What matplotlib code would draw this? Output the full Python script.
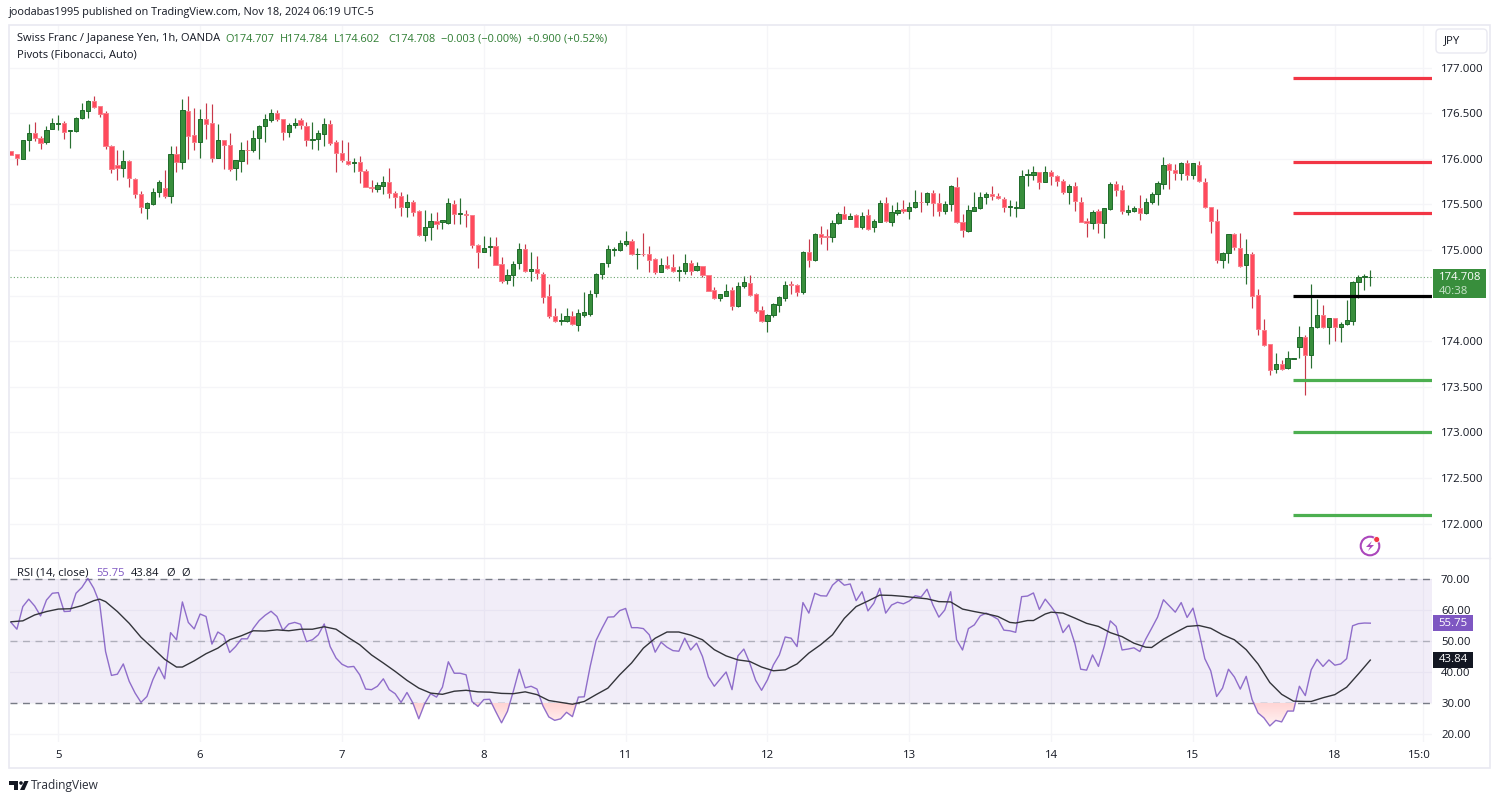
import numpy as np
import matplotlib
matplotlib.use("Agg")
import matplotlib.pyplot as plt
from matplotlib.patches import Rectangle, Circle, Polygon, FancyBboxPatch
from matplotlib.path import Path

plt.rcParams['font.family'] = ['Open Sans', 'DejaVu Sans']

# hourly CHF/JPY candles
opens = [
    176.08,176.05,176.00,176.20,176.28,176.23,176.18,176.33,176.38,176.39,
    176.30,176.30,176.45,176.52,176.63,176.58,176.50,176.14,175.93,175.90,
    175.98,175.78,175.61,175.46,175.50,175.63,175.68,175.59,176.05,175.96,
    176.52,176.26,176.18,176.43,176.39,176.01,176.20,176.15,175.90,175.98,
    176.10,176.09,176.23,176.36,176.42,176.50,176.43,176.29,176.37,176.42,
    176.36,176.21,176.22,176.27,176.38,176.18,176.06,175.98,175.95,175.96,
    175.87,175.69,175.67,175.70,175.75,175.62,175.59,175.47,175.53,175.43,
    175.16,175.25,175.32,175.31,175.29,175.50,175.39,175.39,175.38,175.05,
    174.98,175.03,175.04,174.85,174.67,174.72,174.86,175.01,174.77,174.79,
    174.74,174.49,174.28,174.22,174.22,174.27,174.18,174.29,174.30,174.53,
    174.74,174.86,175.00,175.00,175.07,175.10,174.95,174.96,174.95,174.90,
    174.76,174.84,174.81,174.77,174.77,174.86,174.78,174.82,174.72,174.56,
    174.47,174.50,174.56,174.38,174.60,174.64,174.52,174.34,174.22,174.29,
    174.40,174.47,174.63,174.62,174.54,174.98,174.89,175.17,175.15,175.14,
    175.30,175.39,175.34,175.38,175.25,175.38,175.25,175.31,175.51,175.31,
    175.41,175.45,175.43,175.47,175.53,175.52,175.62,175.51,175.43,175.50,
    175.69,175.31,175.21,175.43,175.46,175.58,175.61,175.59,175.56,175.47,
    175.46,175.46,175.82,175.82,175.85,175.74,175.85,175.81,175.76,175.63,
    175.70,175.53,175.32,175.29,175.43,175.29,175.45,175.72,175.66,175.42,
    175.43,175.46,175.41,175.52,175.61,175.72,175.94,175.88,175.84,175.95,
    175.82,175.93,175.75,175.47,175.32,174.89,174.97,175.17,175.02,174.83,
    174.96,174.51,174.12,173.97,173.69,173.75,173.70,173.80,173.93,174.05,
    173.85,174.15,174.29,174.16,174.25,174.16,174.19,174.22,174.65,174.70,174.707,
]
highs = [
    176.08,176.05,176.21,176.38,176.40,176.25,176.36,176.45,176.48,176.41,
    176.31,176.46,176.61,176.64,176.69,176.58,176.52,176.15,176.10,176.09,
    175.99,175.79,175.65,175.53,175.68,175.77,175.88,176.14,176.14,176.66,
    176.69,176.56,176.54,176.61,176.60,176.38,176.20,176.28,175.99,176.18,
    176.21,176.32,176.37,176.49,176.54,176.53,176.44,176.39,176.45,176.45,
    176.40,176.40,176.31,176.45,176.42,176.20,176.20,176.18,176.01,176.03,
    175.89,175.77,175.75,175.81,175.90,175.65,175.64,175.61,175.55,175.44,
    175.44,175.41,175.42,175.33,175.57,175.55,175.57,175.44,175.38,175.06,
    175.15,175.14,175.14,174.92,174.79,174.88,175.08,175.07,174.98,174.93,
    174.76,174.63,174.36,174.31,174.36,174.33,174.35,174.54,174.56,174.75,
    174.86,175.05,175.03,175.11,175.21,175.12,175.02,175.19,175.04,174.91,
    174.91,174.93,174.96,174.82,174.95,174.89,174.87,174.82,174.72,174.59,
    174.52,174.63,174.59,174.65,174.71,174.72,174.53,174.39,174.30,174.42,
    174.50,174.66,174.66,174.63,174.99,175.12,175.18,175.26,175.23,175.33,
    175.42,175.48,175.41,175.39,175.42,175.45,175.34,175.55,175.58,175.49,
    175.52,175.55,175.52,175.66,175.64,175.63,175.66,175.62,175.54,175.71,
    175.80,175.39,175.49,175.64,175.63,175.63,175.70,175.62,175.58,175.55,
    175.54,175.88,175.89,175.92,175.85,175.92,175.88,175.82,175.78,175.72,
    175.74,175.58,175.35,175.44,175.45,175.46,175.74,175.76,175.71,175.49,
    175.48,175.60,175.57,175.64,175.76,176.02,175.95,175.94,175.96,175.99,
    175.95,175.97,175.79,175.47,175.45,174.98,175.17,175.18,175.18,175.12,
    174.98,174.57,174.24,173.97,173.87,173.79,173.89,173.81,174.17,174.07,
    174.63,174.46,174.40,174.25,174.25,174.21,174.45,174.66,174.72,174.74,174.784,
]
lows = [
    176.04,175.93,176.00,176.08,176.19,176.11,176.16,176.33,176.32,176.22,
    176.12,176.29,176.43,176.45,176.56,176.46,176.11,175.84,175.77,175.80,
    175.69,175.57,175.40,175.34,175.49,175.58,175.57,175.51,175.85,175.89,
    176.00,176.09,176.01,176.22,175.96,176.01,175.89,175.87,175.77,175.85,
    175.94,176.07,176.00,176.18,176.40,176.41,176.20,176.24,176.34,176.33,
    176.14,176.11,176.10,176.14,176.15,175.85,175.96,175.93,175.85,175.73,
    175.69,175.63,175.63,175.61,175.57,175.46,175.37,175.36,175.37,175.15,
    175.10,175.11,175.23,175.23,175.28,175.28,175.28,175.25,175.02,174.80,
    174.98,174.93,174.83,174.64,174.63,174.60,174.79,174.76,174.66,174.68,
    174.42,174.25,174.21,174.18,174.21,174.18,174.11,174.26,174.28,174.48,
    174.68,174.81,174.93,174.99,175.04,174.94,174.79,174.93,174.76,174.74,
    174.76,174.79,174.76,174.66,174.74,174.73,174.77,174.70,174.55,174.46,
    174.44,174.50,174.34,174.37,174.58,174.49,174.31,174.21,174.10,174.26,
    174.32,174.44,174.52,174.49,174.52,174.81,174.88,175.07,175.00,175.09,
    175.28,175.34,175.34,175.25,175.23,175.22,175.20,175.31,175.31,175.26,
    175.38,175.41,175.34,175.46,175.42,175.49,175.37,175.37,175.39,175.43,
    175.30,175.14,175.20,175.43,175.45,175.50,175.55,175.56,175.42,175.37,
    175.36,175.46,175.70,175.77,175.67,175.74,175.71,175.70,175.61,175.50,
    175.43,175.31,175.14,175.23,175.19,175.13,175.44,175.59,175.39,175.38,
    175.42,175.33,175.39,175.50,175.49,175.67,175.67,175.77,175.77,175.77,
    175.78,175.74,175.46,175.18,174.86,174.80,174.86,175.00,174.81,174.63,
    174.36,174.07,173.95,173.63,173.65,173.68,173.69,173.80,173.81,173.41,
    173.70,174.14,174.14,173.97,174.00,173.99,174.18,174.18,174.47,174.56,174.602,
]
closes = [
    176.04,176.01,176.20,176.28,176.23,176.17,176.32,176.39,176.39,176.29,
    176.31,176.45,176.53,176.63,176.57,176.49,176.14,175.89,175.90,175.98,
    175.79,175.61,175.47,175.51,175.63,175.74,175.59,176.05,175.96,176.53,
    176.25,176.18,176.43,176.38,176.01,176.21,176.15,175.89,175.99,176.10,
    176.09,176.23,176.36,176.43,176.50,176.43,176.29,176.37,176.39,176.37,
    176.21,176.22,176.28,176.38,176.17,176.06,175.99,175.94,175.96,175.87,
    175.69,175.68,175.71,175.75,175.62,175.58,175.47,175.53,175.42,175.16,
    175.25,175.32,175.28,175.33,175.51,175.39,175.40,175.38,175.05,174.98,
    175.02,175.04,174.84,174.66,174.72,174.85,175.01,174.77,174.79,174.75,
    174.48,174.28,174.22,174.23,174.28,174.19,174.31,174.32,174.52,174.74,
    174.86,175.01,175.01,175.08,175.10,174.95,174.96,174.95,174.89,174.76,
    174.84,174.80,174.77,174.78,174.86,174.77,174.82,174.72,174.55,174.47,
    174.52,174.55,174.39,174.60,174.65,174.51,174.33,174.22,174.29,174.41,
    174.48,174.62,174.61,174.54,174.98,174.89,175.17,175.14,175.14,175.30,
    175.39,175.34,175.37,175.25,175.37,175.23,175.32,175.51,175.32,175.42,
    175.44,175.43,175.47,175.53,175.52,175.62,175.51,175.43,175.50,175.70,
    175.31,175.22,175.44,175.47,175.58,175.61,175.59,175.57,175.47,175.48,
    175.47,175.81,175.83,175.85,175.74,175.85,175.81,175.76,175.63,175.70,
    175.54,175.31,175.30,175.42,175.29,175.46,175.72,175.66,175.43,175.44,
    175.46,175.41,175.52,175.61,175.73,175.93,175.88,175.84,175.95,175.82,
    175.95,175.76,175.47,175.32,174.89,174.97,175.17,175.03,174.82,174.96,
    174.50,174.13,173.96,173.68,173.75,173.69,173.81,173.81,174.05,173.85,
    174.15,174.29,174.16,174.25,174.16,174.19,174.23,174.65,174.70,174.71,174.708,
]

rsi = [
    56.0,53.8,61.1,63.5,61.3,58.1,63.2,65.4,65.6,59.5,
    59.6,65.4,67.3,70.2,67.0,62.2,46.6,38.9,39.3,42.6,
    37.0,33.2,30.2,32.1,37.5,41.6,37.8,52.7,50.4,62.6,
    56.0,53.9,58.7,57.9,49.0,52.9,51.7,46.3,48.2,50.7,
    50.7,54.1,56.6,58.3,59.6,57.9,53.4,55.5,56.0,55.4,
    49.8,50.4,52.0,55.5,48.2,44.5,42.5,41.6,41.8,39.1,
    34.5,34.3,35.4,37.8,34.3,33.0,30.2,33.4,30.0,24.9,
    29.8,33.0,31.9,35.1,43.3,39.6,39.6,39.1,30.5,28.9,
    31.1,31.2,27.3,23.6,27.3,33.8,40.9,34.9,35.4,34.5,
    29.1,25.5,24.4,24.9,27.0,25.6,31.9,32.0,41.8,50.2,
    54.1,57.7,57.8,59.8,60.5,54.3,54.3,54.0,52.0,46.4,
    49.6,48.0,46.9,46.7,50.9,47.1,49.3,45.0,38.4,35.4,
    37.7,40.0,34.3,45.2,47.4,42.9,37.3,34.1,37.5,42.3,
    45.5,51.3,50.9,48.2,62.4,59.0,65.4,64.6,64.5,68.0,
    69.7,68.0,68.4,63.0,65.9,59.7,62.2,67.0,59.0,61.6,
    62.5,62.0,62.9,64.6,64.2,66.7,61.6,57.7,60.0,65.9,
    50.4,47.1,54.0,55.2,58.1,59.0,58.1,57.0,53.5,53.3,
    52.8,64.3,64.5,65.5,60.2,63.5,61.1,58.4,52.7,55.2,
    49.3,40.9,40.6,45.5,41.8,48.4,56.5,54.7,47.1,47.4,
    47.8,46.6,50.6,54.1,57.7,63.3,61.3,59.3,62.4,57.6,
    60.6,53.0,44.3,40.4,32.1,34.8,40.9,38.4,34.5,38.6,
    31.1,26.8,25.2,22.6,24.4,23.9,27.4,27.4,35.4,32.4,
    40.7,44.1,41.8,43.9,42.2,42.6,44.3,54.9,55.6,55.8,55.75,
]

# RSI moving average, read at these bars
rsi_ma_bars = [
    0,2,4,6,8,10,12,14,15,16,18,20,22,24,26,28,29,31,33,35,37,39,41,43,45,47,49,
    51,53,55,57,59,61,63,65,67,69,71,73,75,77,79,81,83,85,87,89,91,93,95,97,99,
    101,103,105,107,109,111,113,115,117,119,121,123,125,127,129,131,133,135,137,
    139,141,143,145,147,149,151,153,155,157,159,161,163,165,167,169,170,172,173,
    175,176,178,180,182,184,186,188,190,192,193,195,197,199,201,203,205,207,209,
    211,213,215,217,219,220,222,224,226,228,230,
]
rsi_ma = [
    56.2,56.5,58.4,59.5,60.3,60.4,61.4,63.0,63.5,62.7,59.5,55.7,51.2,47.7,44.1,41.6,41.6,43.6,45.9,47.7,50.4,51.7,53.3,53.2,53.6,53.3,53.8,
    53.8,54.6,53.8,51.2,48.8,45.5,42.9,40.2,37.3,34.8,33.2,32.8,33.8,34.1,33.6,33.5,33.1,33.0,33.6,32.7,30.8,30.2,29.6,30.5,32.7,
    34.8,39.1,42.9,47.7,50.9,52.9,52.9,51.9,50.4,47.2,45.2,43.9,43.4,41.6,40.4,40.7,42.6,46.1,48.8,
    52.0,57.3,61.1,62.9,64.8,64.7,64.4,64.0,63.6,62.7,62.6,60.3,59.5,58.8,57.9,56.0,55.8,56.6,56.6,
    58.7,59.3,59.0,57.4,55.7,54.7,52.7,51.4,49.3,48.0,47.9,50.6,52.7,54.7,55.0,54.1,52.0,50.4,47.2,
    42.6,36.6,32.8,30.6,30.5,30.5,31.7,32.7,35.1,39.4,43.84,
]

pivot_resistance = [176.885, 175.96, 175.405]
pivot_center = 174.495
pivot_support = [173.57, 173.0, 172.09]
pivot_start = 217

price_ticks = [172.0, 172.5, 173.0, 173.5, 174.0, 174.5, 175.0, 175.5, 176.0, 176.5, 177.0]
rsi_ticks = [20, 30, 40, 50, 60, 70]
day_bars = [8, 32, 56, 80, 104, 128, 152, 176, 200, 224, 239]
day_labels = ['5', '6', '7', '8', '11', '12', '13', '14', '15', '18', '15:0']
last_price = 174.708

UP = '#388E3C'
UP_EDGE = '#1F6B2A'
DOWN = '#FF4A5C'
DOWN_EDGE = '#F7808C'
DOWN_WICK = '#C8384A'
UP_WICK = '#2A7032'
GRID = '#F5F5F8'
BORDER = '#E9E9F1'
TEXT = '#131722'
PURPLE = '#7E57C2'
VALUE_GREEN = '#2E7D32'
FS = 8.2

W, H = 1500, 802
BAR_PX, BAR0_PX = 5.91, 11.0
LEFT, RIGHT = 9.5, 1432.0


def px_axes(x0, y0, x1, y1):
    return fig.add_axes([x0 / W, 1 - y1 / H, (x1 - x0) / W, (y1 - y0) / H])


fig = plt.figure(figsize=(15, 8.02), dpi=100, facecolor='white')
ax = px_axes(LEFT, 25, RIGHT, 558)
ax_rsi = px_axes(LEFT, 559, RIGHT, 742)

xlim = ((LEFT - BAR0_PX) / BAR_PX, (RIGHT - BAR0_PX) / BAR_PX)
for a in (ax, ax_rsi):
    a.set_xlim(*xlim)
    for s in a.spines.values():
        s.set_visible(False)
    a.set_axisbelow(True)
    a.set_xticks(day_bars)
    a.grid(True, color=GRID, linewidth=1.0)
    a.yaxis.tick_right()
    a.tick_params(length=0, labelsize=FS, labelcolor=TEXT)
    a.tick_params(axis='y', pad=6.5)

# price pane, the 174.500 label sits behind the last price box
ax.set_ylim(171.622, 177.466)
ax.set_yticks(price_ticks)
ax.set_yticklabels(['' if v == 174.5 else f'{v:.3f}' for v in price_ticks])
ax.tick_params(axis='x', labelbottom=False)

bars = np.arange(len(closes))
o, h, l, c = map(np.array, (opens, highs, lows, closes))
up = c >= o
ax.vlines(bars[up], l[up], h[up], color=UP_WICK, linewidth=0.85, zorder=3)
ax.vlines(bars[~up], l[~up], h[~up], color=DOWN_WICK, linewidth=0.85, zorder=3)
ax.bar(bars[up], (c - o)[up], bottom=o[up], width=0.72, color=UP,
       edgecolor=UP_EDGE, linewidth=0.7, zorder=4)
ax.bar(bars[~up], (c - o)[~up], bottom=o[~up], width=0.72, color=DOWN,
       edgecolor=DOWN_EDGE, linewidth=0.7, zorder=4)

ax.axhline(last_price, color='#6AA56E', linewidth=0.8, linestyle=(0, (1, 2)), zorder=2)

# pivots run to the edge of the pane
for level in pivot_resistance:
    ax.hlines(level, pivot_start, xlim[1], color='#F23645', linewidth=2.3, zorder=5)
ax.hlines(pivot_center, pivot_start, xlim[1], color='black', linewidth=2.3, zorder=5)
for level in pivot_support:
    ax.hlines(level, pivot_start, xlim[1], color='#4CAF50', linewidth=2.3, zorder=5)

# rsi pane
ax_rsi.set_ylim(17.42, 76.45)
ax_rsi.set_yticks(rsi_ticks)
ax_rsi.set_yticklabels([f'{v:.2f}' for v in rsi_ticks])
ax_rsi.set_xticklabels(day_labels[:-1] + [''])
ax_rsi.tick_params(axis='x', pad=5.5)
ax_rsi.axhspan(30, 70, color=PURPLE, alpha=0.1, linewidth=0, zorder=1)
for level in (70, 30):
    ax_rsi.axhline(level, color='#787B86', linewidth=1.0, linestyle=(0, (5, 4)), zorder=2)
ax_rsi.axhline(50, color='#787B86', linewidth=1.0, alpha=0.5, linestyle=(0, (5, 4)), zorder=2)

# pink gradient where the rsi dips under 30
rsi_arr = np.array(rsi)
oversold = ax_rsi.fill_between(bars, rsi_arr, 30, where=rsi_arr < 30, interpolate=True,
                               color='none', linewidth=0)
grad = ax_rsi.imshow(np.linspace(0.0, 1.0, 64).reshape(-1, 1),
                     extent=(xlim[0], xlim[1], 20, 30), origin='lower', aspect='auto',
                     cmap=matplotlib.colors.LinearSegmentedColormap.from_list(
                         'os', ['#FFFFFF', '#FFD3D3']), zorder=2)
grad.set_clip_path(Path.make_compound_path(*oversold.get_paths()), transform=ax_rsi.transData)
ax_rsi.set_xlim(*xlim)
ax_rsi.set_ylim(17.42, 76.45)

ax_rsi.plot(bars, rsi, color=PURPLE, linewidth=1.0, alpha=0.85, zorder=3)
ax_rsi.plot(rsi_ma_bars, rsi_ma, color='#33343A', linewidth=1.0, zorder=4)

# everything around the panes, in figure pixels
ov = fig.add_axes([0, 0, 1, 1], facecolor='none')
ov.set_xlim(0, W)
ov.set_ylim(H, 0)
ov.axis('off')

ov.add_patch(Rectangle((9, 25), 1481, 743, fill=False, edgecolor=BORDER, linewidth=1.2))
ov.plot([9, 1490], [558, 558], color=BORDER, linewidth=1.0)


def label(x, y, s, color=TEXT, size=FS, ha='left', **kw):
    ov.text(x, y, s, color=color, fontsize=size, ha=ha, va='center', **kw)


label(9, 12, 'joodabas1995 published on TradingView.com, Nov 18, 2024 06:19 UTC-5', size=7.8)
label(17, 39, 'Swiss Franc / Japanese Yen, 1h, OANDA', size=8.0)
label(17, 55, 'Pivots (Fibonacci, Auto)', size=8.0)
for x, s in [(225, 'O174.707'), (280, 'H174.784'), (334, 'L174.602'), (388, 'C174.708'),
             (441, '−0.003 (−0.00%)'), (527, '+0.900 (+0.52%)')]:
    label(x, 39, s, color=VALUE_GREEN, size=7.95)

label(17, 573, 'RSI (14, close)', size=8.1)
label(96, 573, '55.75', color=PURPLE, size=8.0)
label(131, 573, '43.84', size=8.0)
label(166, 573, 'Ø', size=8.0)
label(181, 573, 'Ø', size=8.0)
label(1419, 755, day_labels[-1], ha='center')

ov.add_patch(FancyBboxPatch((1436, 29), 51, 24, boxstyle='round,pad=0,rounding_size=4',
                            facecolor='white', edgecolor=BORDER, linewidth=1.0, zorder=6))
label(1444, 41, 'JPY', size=8.2, zorder=7)

ov.add_patch(Rectangle((1433, 269), 53, 29, facecolor=UP, edgecolor='none', zorder=6))
label(1439, 277, '174.708', color='white', zorder=7)
label(1439, 291, '40:38', color='#C9E4CB', zorder=7)
ov.add_patch(Rectangle((1433, 615), 40, 16, facecolor=PURPLE, edgecolor='none', zorder=6))
label(1453, 623, '55.75', color='white', ha='center', zorder=7)
ov.add_patch(Rectangle((1433, 652), 40, 16, facecolor=TEXT, edgecolor='none', zorder=6))
label(1453, 660, '43.84', color='white', ha='center', zorder=7)

# snapshot badge
ov.add_patch(Circle((1370, 546), 9.3, fill=False, edgecolor='#AB47BC', linewidth=1.5))
ov.add_patch(Polygon([(1372, 541), (1366, 547), (1370, 547), (1368, 551), (1374, 545), (1370, 545)],
                     facecolor='#AB47BC', edgecolor='none'))
ov.add_patch(Circle((1376.7, 539.5), 3, facecolor='#F23645', edgecolor='white', linewidth=0.6))

# TradingView mark
ov.add_patch(Polygon([(9, 781), (18, 781), (18, 790), (14, 790), (14, 784.5), (9, 784.5)],
                     facecolor=TEXT, edgecolor='none'))
ov.add_patch(Circle((21, 783), 1.8, facecolor=TEXT, edgecolor='none'))
ov.add_patch(Polygon([(24.5, 781), (28.5, 781), (24.5, 790), (20, 790)],
                     facecolor=TEXT, edgecolor='none'))
label(31, 785.5, 'TradingView', size=8.6, color='#2A2E39')

fig.savefig('out.png', dpi=100)
